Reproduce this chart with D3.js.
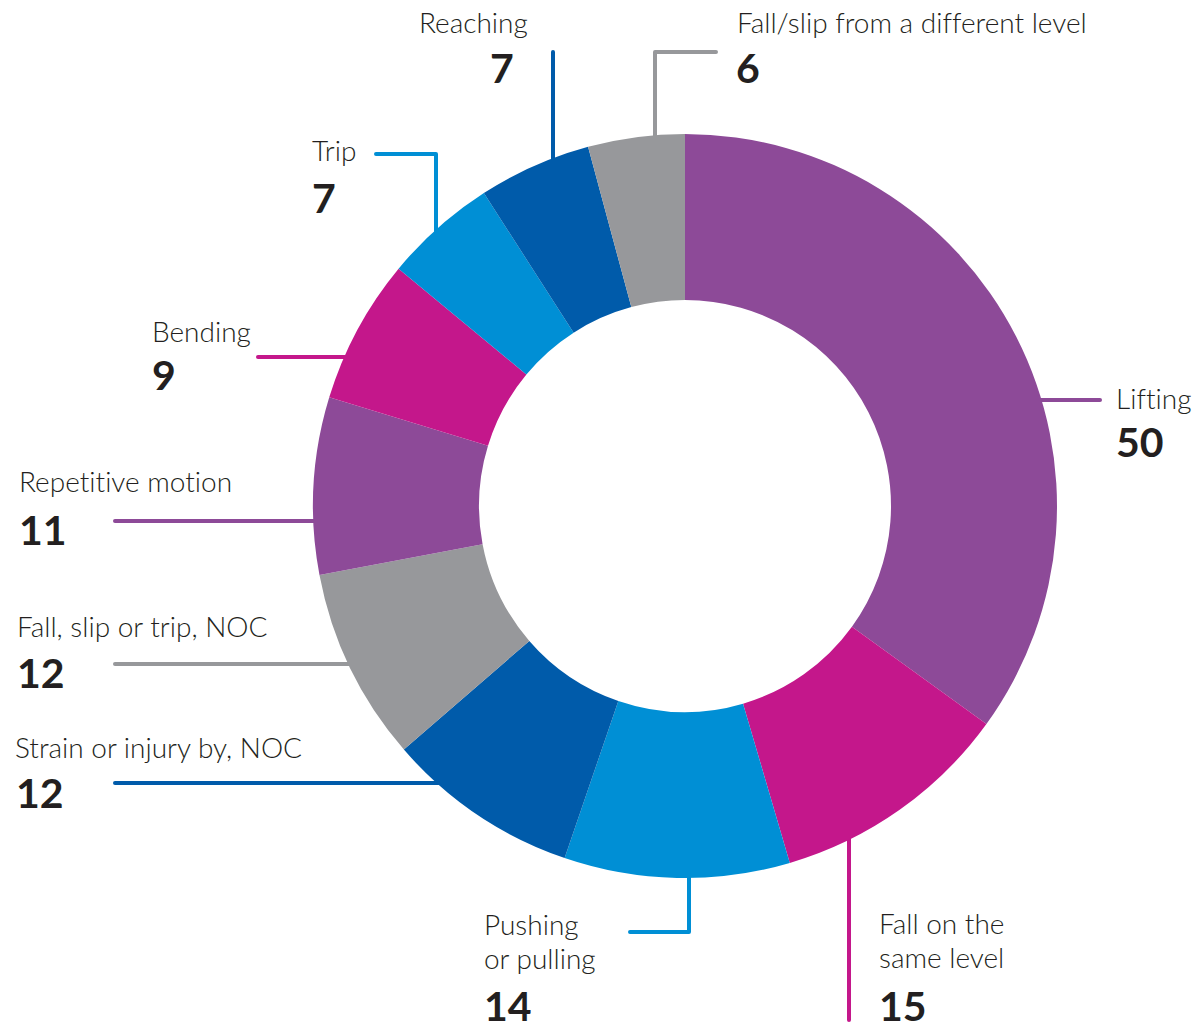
<!DOCTYPE html>
<html>
<head>
<meta charset="utf-8">
<script src="https://cdn.jsdelivr.net/npm/d3@7"></script>
<style>
  html, body { margin: 0; padding: 0; background: #fff; }
  svg { display: block; }
  .label { font-family: Lato, "Noto Sans", sans-serif; font-weight: 300; font-size: 28px; fill: #231f20; font-variant-ligatures: none; }
  .value { font-family: Lato, "Noto Sans", sans-serif; font-weight: 700; font-size: 41px; fill: #231f20; }
</style>
</head>
<body>
<div id="chart"></div>
<script>
// data, clockwise from 12 o'clock
const categories = [
  'Lifting', 'Fall on the same level', 'Pushing or pulling', 'Strain or injury by, NOC',
  'Fall, slip or trip, NOC', 'Repetitive motion', 'Bending', 'Trip', 'Reaching',
  'Fall/slip from a different level'
];
const values = [50, 15, 14, 12, 12, 11, 9, 7, 7, 6];
const labelLines = [
  ['Lifting'], ['Fall on the', 'same level'], ['Pushing', 'or pulling'], ['Strain or injury by, NOC'],
  ['Fall, slip or trip, NOC'], ['Repetitive motion'], ['Bending'], ['Trip'], ['Reaching'],
  ['Fall/slip from a different level']
];

const
  WIDTH = 1196,
  HEIGHT = 1024,
  CX = 685,
  CY = 506,
  OUTER_R = 372,
  INNER_R = 206,
  LEADER_OVERLAP = 14;

const palette = ['#8d4a98', '#c4178b', '#008fd5', '#005baa', '#97989b',
                 '#8d4a98', '#c4178b', '#008fd5', '#005baa', '#97989b'];

// where the label text sits and how its leader bends before it meets the ring
const layout = [
  { x: 1116, y: 409, nx: 1116, ny: 457, leader: [[1100, 400]], end: 'h' },
  { x: 879, y: 934, nx: 879, ny: 1021, leader: [[849, 1020]], end: 'v' },
  { x: 484, y: 935, nx: 484, ny: 1021, leader: [[630, 932], [689, 932]], end: 'v' },
  { x: 15, y: 758, nx: 16, ny: 808, leader: [[115, 783]], end: 'h' },
  { x: 17, y: 637, nx: 17, ny: 688, leader: [[115, 664]], end: 'h' },
  { x: 19, y: 492, nx: 19, ny: 545, leader: [[115, 521]], end: 'h' },
  { x: 152, y: 342, nx: 152, ny: 390, leader: [[258, 357]], end: 'h' },
  { x: 312, y: 161, nx: 312, ny: 213, leader: [[376, 154], [436, 154]], end: 'v' },
  { x: 419, y: 33, nx: 490, ny: 83, leader: [[553, 52]], end: 'v' },
  { x: 737, y: 33, nx: 736, ny: 83, leader: [[716, 52], [655, 52]], end: 'v' }
];

const svg = d3.select('#chart').append('svg')
  .attr('width', WIDTH)
  .attr('height', HEIGHT);

const pie = d3.pie().sort(null).value(d => d)(values);
const arc = d3.arc().innerRadius(INNER_R).outerRadius(OUTER_R);

// leader end: run the last segment until it is inside the ring
function leaderPoints(lay) {
  const pts = lay.leader.slice();
  const [lx, ly] = pts[pts.length - 1];
  if (lay.end === 'h') {
    const dy = ly - CY;
    const half = Math.sqrt(OUTER_R * OUTER_R - dy * dy);
    const dir = lx < CX ? -1 : 1;
    pts.push([CX + dir * (half - LEADER_OVERLAP), ly]);
  } else {
    const dx = lx - CX;
    const half = Math.sqrt(OUTER_R * OUTER_R - dx * dx);
    const dir = ly < CY ? -1 : 1;
    pts.push([lx, CY + dir * (half - LEADER_OVERLAP)]);
  }
  return pts;
}

svg.append('g')
  .attr('class', 'leaders')
  .selectAll('path')
  .data(layout)
  .enter()
  .append('path')
  .attr('d', d => d3.line()(leaderPoints(d)))
  .attr('fill', 'none')
  .attr('stroke', (d, i) => palette[i])
  .attr('stroke-width', 4)
  .attr('stroke-linecap', 'round')
  .attr('stroke-linejoin', 'round');

svg.append('g')
  .attr('class', 'donut')
  .attr('transform', `translate(${CX},${CY})`)
  .selectAll('path')
  .data(pie)
  .enter()
  .append('path')
  .attr('d', arc)
  .attr('fill', (d, i) => palette[i])
  .append('title')
  .text((d, i) => `${categories[i]}: ${values[i]}`);

const labels = svg.append('g')
  .attr('class', 'labels')
  .selectAll('g')
  .data(layout)
  .enter()
  .append('g');

labels.each(function (lay, i) {
  const g = d3.select(this);
  labelLines[i].forEach((line, j) => {
    g.append('text')
      .attr('class', 'label')
      .attr('x', lay.x)
      .attr('y', lay.y + j * 34)
      .text(line);
  });
  g.append('text')
    .attr('class', 'value')
    .attr('x', lay.nx)
    .attr('y', lay.ny)
    .text(values[i]);
});
</script>
</body>
</html>
